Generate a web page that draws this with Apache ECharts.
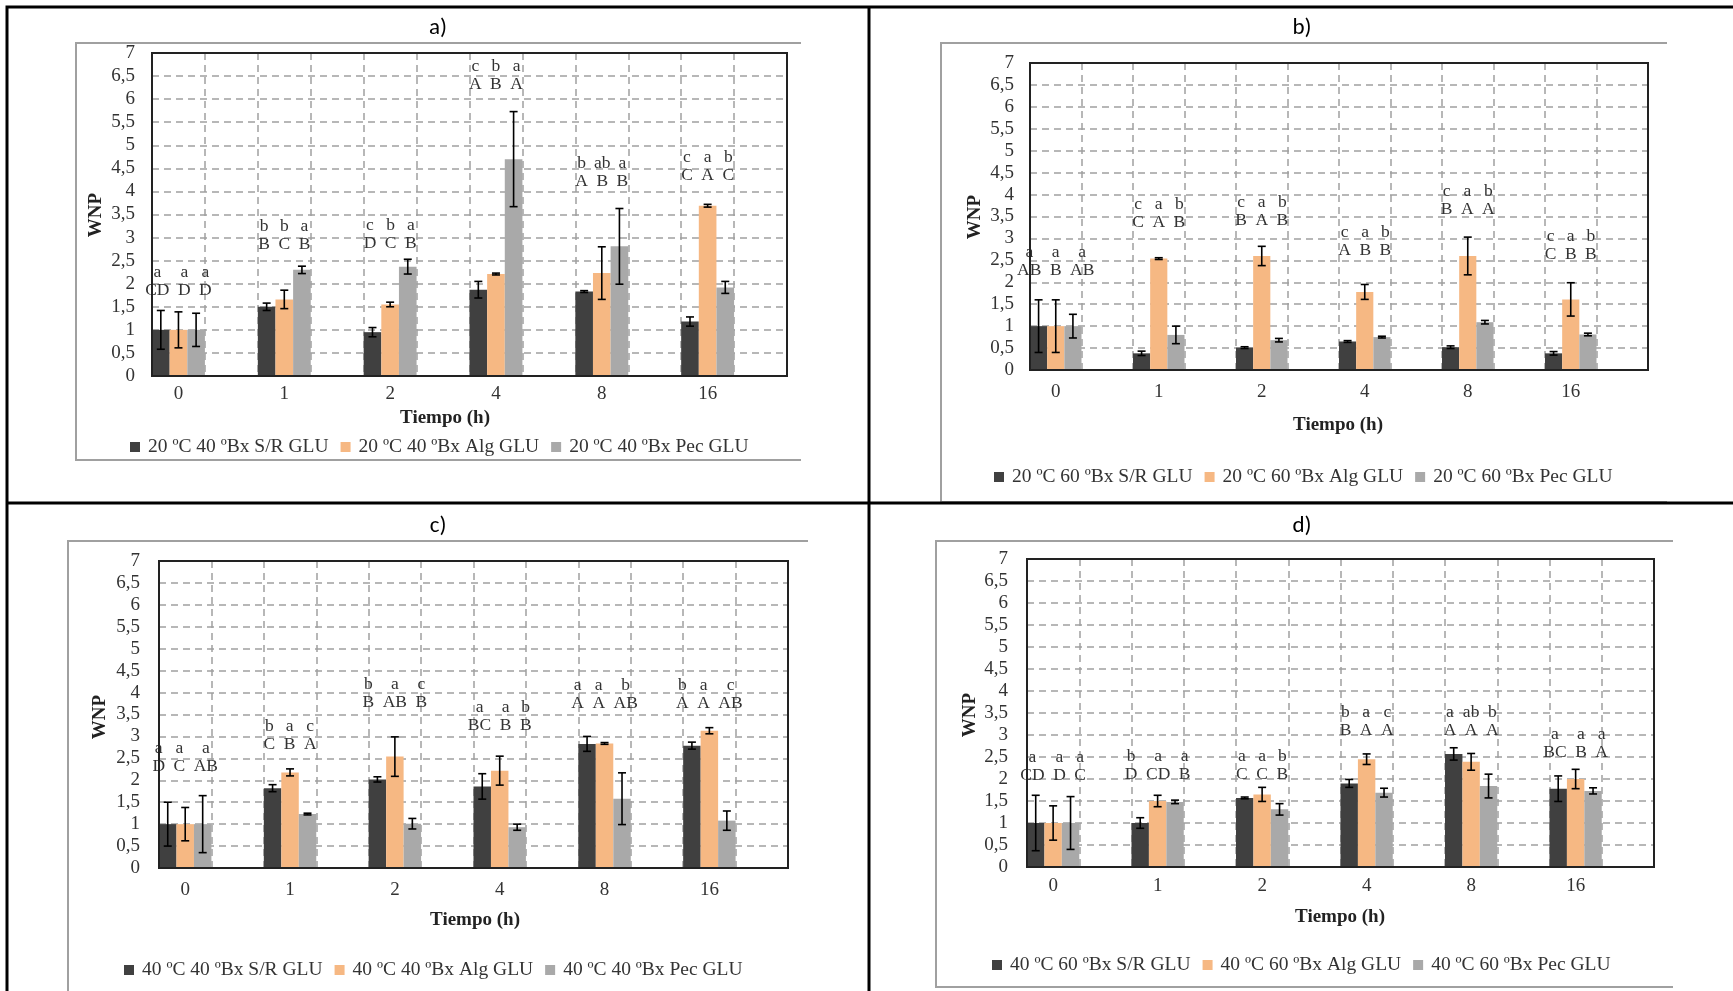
<!DOCTYPE html>
<html>
<head>
<meta charset="utf-8">
<script src="https://cdn.jsdelivr.net/npm/echarts@6/dist/echarts.min.js"></script>
<style>
  html, body { margin: 0; padding: 0; background: #fff; }
  #chart { width: 1733px; height: 991px; }
</style>
</head>
<body>
<div id="chart"></div>
<script>
// Sampling times (h)
const times = ['0', '1', '2', '4', '8', '16'];
// Y-axis ticks (WNP)
const yTicks = [0, 0.5, 1, 1.5, 2, 2.5, 3, 3.5, 4, 4.5, 5, 5.5, 6, 6.5, 7];

// a) 20 ºC 40 ºBx
const aSR = [1.00, 1.50, 0.95, 1.87, 1.83, 1.18];
const aSRErr = [0.42, 0.08, 0.10, 0.18, 0.02, 0.10];
const aAlg = [1.00, 1.66, 1.55, 2.21, 2.23, 3.69];
const aAlgErr = [0.39, 0.20, 0.05, 0.02, 0.57, 0.03];
const aPec = [1.00, 2.30, 2.37, 4.70, 2.81, 1.92];
const aPecErr = [0.36, 0.08, 0.16, 1.03, 0.82, 0.13];
const aLower = [['a','a','a'], ['b','b','a'], ['c','b','a'], ['c','b','a'], ['b','ab','a'], ['c','a','b']];
const aUpper = [['CD','D','D'], ['B','C','B'], ['D','C','B'], ['A','B','A'], ['A','B','B'], ['C','A','C']];
const aLetterLevel = [1.85, 2.86, 2.88, 6.33, 4.22, 4.34];

// b) 20 ºC 60 ºBx
const bSR = [1.00, 0.38, 0.51, 0.65, 0.52, 0.38];
const bSRErr = [0.60, 0.05, 0.02, 0.02, 0.03, 0.04];
const bAlg = [1.00, 2.54, 2.60, 1.78, 2.60, 1.61];
const bAlgErr = [0.60, 0.02, 0.22, 0.17, 0.43, 0.38];
const bPec = [1.00, 0.80, 0.68, 0.75, 1.09, 0.81];
const bPecErr = [0.27, 0.20, 0.04, 0.02, 0.04, 0.03];
const bLower = [['a','a','a'], ['c','a','b'], ['c','a','b'], ['c','a','b'], ['c','a','b'], ['c','a','b']];
const bUpper = [['AB','B','AB'], ['C','A','B'], ['B','A','B'], ['A','B','B'], ['B','A','A'], ['C','B','B']];
const bLetterLevel = [2.28, 3.36, 3.42, 2.72, 3.67, 2.63];

// c) 40 ºC 40 ºBx
const cSR = [1.00, 1.82, 2.02, 1.86, 2.83, 2.79];
const cSRErr = [0.50, 0.08, 0.06, 0.29, 0.17, 0.08];
const cAlg = [1.00, 2.18, 2.54, 2.22, 2.84, 3.13];
const cAlgErr = [0.38, 0.08, 0.45, 0.33, 0.02, 0.07];
const cPec = [1.00, 1.23, 1.01, 0.93, 1.58, 1.08];
const cPecErr = [0.65, 0.02, 0.12, 0.07, 0.59, 0.22];
const cLower = [['a','a','a'], ['b','a','c'], ['b','a','c'], ['a','a','b'], ['a','a','b'], ['b','a','c']];
const cUpper = [['D','C','AB'], ['C','B','A'], ['B','AB','B'], ['BC','B','B'], ['A','A','AB'], ['A','A','AB']];
const cLetterLevel = [2.31, 2.82, 3.77, 3.26, 3.75, 3.75];

// d) 40 ºC 60 ºBx
const dSR = [1.00, 1.00, 1.57, 1.90, 2.57, 1.78];
const dSRErr = [0.63, 0.12, 0.02, 0.09, 0.14, 0.29];
const dAlg = [1.00, 1.50, 1.65, 2.45, 2.39, 2.00];
const dAlgErr = [0.39, 0.13, 0.16, 0.12, 0.19, 0.22];
const dPec = [1.00, 1.48, 1.31, 1.69, 1.84, 1.73];
const dPecErr = [0.60, 0.04, 0.13, 0.10, 0.27, 0.07];
const dLower = [['a','a','a'], ['b','a','a'], ['a','a','b'], ['b','a','c'], ['a','ab','b'], ['a','a','a']];
const dUpper = [['CD','D','C'], ['D','CD','B'], ['C','C','B'], ['B','A','A'], ['A','A','A'], ['BC','B','A']];
const dLetterLevel = [2.09, 2.10, 2.10, 3.11, 3.11, 2.60];

const SERIF = '"Liberation Serif", "Times New Roman", serif';
const COLORS = ['#404040', '#F6B883', '#A9A9A9'];
const GRID_LINE = { color: '#A0A0A0', width: 1.5, type: [7, 5] };
const LETTER_FONT = '17.5px ' + SERIF;
const LETTER_GAP = 8.5;

// text measuring for the significance letters
const measureCtx = document.createElement('canvas').getContext('2d');
measureCtx.font = LETTER_FONT;
const textWidth = s => measureCtx.measureText(s).width;

// Each time point occupies one band followed by an empty spacer band
const xBands = [];
times.forEach(t => { xBands.push(t); xBands.push(''); });
const spread = vals => { const out = []; vals.forEach(v => { out.push(v); out.push('-'); }); return out; };

function errorBarRenderer(params, api) {
  const idx = api.value(0), v = api.value(1), e = api.value(2), k = api.value(3);
  const bw = api.size([1, 0])[0] / 3;
  const x = api.coord([idx, v])[0] + (k - 1) * bw;
  const yTop = api.coord([idx, v + e])[1];
  const yBot = api.coord([idx, Math.max(v - e, 0)])[1];
  const cap = 4;
  const st = { stroke: '#000', lineWidth: 1.6 };
  return {
    type: 'group',
    children: [
      { type: 'line', shape: { x1: x, y1: yTop, x2: x, y2: yBot }, style: st },
      { type: 'line', shape: { x1: x - cap, y1: yTop, x2: x + cap, y2: yTop }, style: st },
      { type: 'line', shape: { x1: x - cap, y1: yBot, x2: x + cap, y2: yBot }, style: st }
    ]
  };
}

// Two rows of letters (lowercase above uppercase) centred over each cluster
function letterRenderer(lower, upper) {
  return function (params, api) {
    const i = params.dataIndex;
    const p = api.coord([api.value(0), api.value(1)]);
    const widths = upper[i].map(textWidth);
    const total = widths.reduce((s, w) => s + w, 0) + LETTER_GAP * (widths.length - 1);
    let cursor = p[0] - total / 2;
    const children = [];
    for (let k = 0; k < 3; k++) {
      const x = cursor + widths[k] / 2;
      cursor += widths[k] + LETTER_GAP;
      const base = { x: x, align: 'center', verticalAlign: 'middle', font: LETTER_FONT, fill: '#333' };
      children.push({ type: 'text', style: Object.assign({ text: upper[i][k], y: p[1] }, base) });
      children.push({ type: 'text', style: Object.assign({ text: lower[i][k], y: p[1] - 18 }, base) });
    }
    return { type: 'group', children: children };
  };
}

const option = {
  animation: false,
  backgroundColor: '#fff',
  grid: [], xAxis: [], yAxis: [], series: [], legend: [], graphic: []
};

function addPanel(p) {
  const gi = option.grid.length;
  option.grid.push({ left: p.grid[0], top: p.grid[1], width: p.grid[2], height: p.grid[3],
    show: false, containLabel: false });
  option.xAxis.push({
    type: 'category', gridIndex: gi, data: xBands, boundaryGap: true,
    axisLine: { show: false }, axisTick: { show: false },
    axisLabel: { interval: 0, margin: p.xMargin, fontFamily: SERIF, fontSize: 19, color: '#333' },
    splitLine: { show: true, interval: 0, lineStyle: GRID_LINE }
  });
  option.yAxis.push({
    type: 'value', gridIndex: gi, min: yTicks[0], max: yTicks[yTicks.length - 1], interval: yTicks[1] - yTicks[0],
    axisLine: { show: false }, axisTick: { show: false },
    axisLabel: { margin: p.yMargin, fontFamily: SERIF, fontSize: 19, color: '#333',
      formatter: v => String(v).replace('.', ',') },
    splitLine: { show: true, lineStyle: GRID_LINE }
  });
  const names = p.names;
  [p.sr, p.alg, p.pec].forEach((vals, k) => {
    option.series.push({
      type: 'bar', name: names[k], xAxisIndex: gi, yAxisIndex: gi, data: spread(vals),
      barGap: '0%', barCategoryGap: '0%', itemStyle: { color: COLORS[k] }, silent: true
    });
  });
  const errData = [];
  [[p.sr, p.srErr], [p.alg, p.algErr], [p.pec, p.pecErr]].forEach((pair, k) => {
    pair[0].forEach((v, i) => errData.push([2 * i, v, pair[1][i], k]));
  });
  option.series.push({
    type: 'custom', xAxisIndex: gi, yAxisIndex: gi, data: errData, renderItem: errorBarRenderer,
    encode: { x: 0, y: 1 }, silent: true, clip: false, z: 5
  });
  option.series.push({
    type: 'custom', xAxisIndex: gi, yAxisIndex: gi,
    data: p.level.map((lv, i) => [2 * i, lv]),
    renderItem: letterRenderer(p.lower, p.upper),
    encode: { x: 0, y: 1 }, silent: true, clip: false, z: 6
  });
  option.legend.push({
    data: names, left: p.legend[0], top: p.legend[1], icon: 'rect', itemWidth: 10, itemHeight: 10,
    itemGap: 12, selectedMode: false,
    textStyle: { fontFamily: SERIF, fontSize: 19.5, color: '#333', padding: [0, 0, 0, 3] }
  });
  // plot-area frame
  option.graphic.push({ type: 'rect', shape: { x: p.grid[0], y: p.grid[1], width: p.grid[2], height: p.grid[3] },
    style: { stroke: '#222', lineWidth: 2, fill: null }, z: 50, silent: true });
  // axis titles
  option.graphic.push({ type: 'text', x: p.xTitle[0], y: p.xTitle[1],
    style: { text: 'Tiempo (h)', align: 'center', verticalAlign: 'middle', font: 'bold 19px ' + SERIF, fill: '#222' } });
  option.graphic.push({ type: 'text', x: p.yTitle[0], y: p.yTitle[1], rotation: Math.PI / 2,
    style: { text: 'WNP', align: 'center', verticalAlign: 'middle', font: 'bold 19px ' + SERIF, fill: '#222' } });
  // chart frame
  option.graphic.push({ type: 'polyline', shape: { points: p.frame }, style: { stroke: '#A0A0A0', lineWidth: 2, fill: null }, z: 1 });
  // panel caption
  option.graphic.push({ type: 'text', x: p.caption[0], y: p.caption[1],
    style: { text: p.captionText, align: 'center', verticalAlign: 'middle', font: '23px Carlito, Lato, "Open Sans", sans-serif', fill: '#000' } });
}

addPanel({
  names: ['20 ºC 40 ºBx S/R GLU', '20 ºC 40 ºBx Alg GLU', '20 ºC 40 ºBx Pec GLU'],
  sr: aSR, srErr: aSRErr, alg: aAlg, algErr: aAlgErr, pec: aPec, pecErr: aPecErr,
  lower: aLower, upper: aUpper, level: aLetterLevel,
  grid: [152, 53, 635, 323], xMargin: 9, yMargin: 17,
  legend: [125, 432], xTitle: [445, 418], yTitle: [96, 215],
  frame: [[801, 43], [76, 43], [76, 460], [801, 460]], caption: [438, 28], captionText: 'a)'
});
addPanel({
  names: ['20 ºC 60 ºBx S/R GLU', '20 ºC 60 ºBx Alg GLU', '20 ºC 60 ºBx Pec GLU'],
  sr: bSR, srErr: bSRErr, alg: bAlg, algErr: bAlgErr, pec: bPec, pecErr: bPecErr,
  lower: bLower, upper: bUpper, level: bLetterLevel,
  grid: [1030, 63, 618, 307], xMargin: 13, yMargin: 16,
  legend: [989, 462], xTitle: [1338, 425], yTitle: [975, 217],
  frame: [[1667, 43], [941, 43], [941, 502], [1667, 502]], caption: [1302, 28], captionText: 'b)'
});
addPanel({
  names: ['40 ºC 40 ºBx S/R GLU', '40 ºC 40 ºBx Alg GLU', '40 ºC 40 ºBx Pec GLU'],
  sr: cSR, srErr: cSRErr, alg: cAlg, algErr: cAlgErr, pec: cPec, pecErr: cPecErr,
  lower: cLower, upper: cUpper, level: cLetterLevel,
  grid: [159, 561, 629, 307], xMargin: 13, yMargin: 19,
  legend: [119, 955], xTitle: [475, 920], yTitle: [100, 717],
  frame: [[808, 541], [68, 541], [68, 995]], caption: [438, 526], captionText: 'c)'
});
addPanel({
  names: ['40 ºC 60 ºBx S/R GLU', '40 ºC 60 ºBx Alg GLU', '40 ºC 60 ºBx Pec GLU'],
  sr: dSR, srErr: dSRErr, alg: dAlg, algErr: dAlgErr, pec: dPec, pecErr: dPecErr,
  lower: dLower, upper: dUpper, level: dLetterLevel,
  grid: [1027, 559, 627, 308], xMargin: 10, yMargin: 19,
  legend: [987, 950], xTitle: [1340, 917], yTitle: [970, 715],
  frame: [[1673, 541], [936, 541], [936, 987], [1673, 987]], caption: [1302, 526], captionText: 'd)'
});

// table rules separating the four panels
const RULE = { stroke: '#000', lineWidth: 3, fill: null };
option.graphic.push({ type: 'polyline', shape: { points: [[7, 991], [7, 7], [1733, 7]] }, style: RULE, z: 60 });
option.graphic.push({ type: 'line', shape: { x1: 869, y1: 7, x2: 869, y2: 991 }, style: RULE, z: 60 });
option.graphic.push({ type: 'line', shape: { x1: 7, y1: 503, x2: 1733, y2: 503 }, style: RULE, z: 60 });

const chart = echarts.init(document.getElementById('chart'), null, { renderer: 'canvas' });
chart.setOption(option);
</script>
</body>
</html>
